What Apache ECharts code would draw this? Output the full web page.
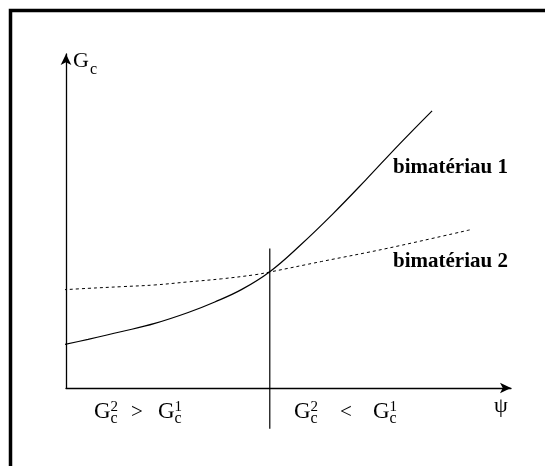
<!DOCTYPE html>
<html>
<head>
<meta charset="utf-8">
<script src="https://cdn.jsdelivr.net/npm/echarts@6/dist/echarts.min.js"></script>
<style>
    html, body { margin: 0; padding: 0; background: #fff; }
    #myChart { width: 545px; height: 466px; }
</style>
</head>
<body>
<div id="myChart"></div>
<script>
    // psi on x, Gc on y (arbitrary units, no ticks shown)
    var psi1 = [-1.7, 4.9, 12.4, 19.7, 27.1, 33.0, 39.0, 45.2, 51.9, 59.2, 66.5, 73.8, 81.2];
    var gc1  = [12.4, 14.3, 16.6, 19.0, 22.2, 25.3, 29.0, 34.2, 41.9, 51.2, 61.2, 71.5, 81.5];
    var psi2 = [-1.8, 4.9, 12.4, 19.7, 27.1, 34.5, 41.9, 45.2, 56.7, 71.4, 89.6];
    var gc2  = [28.8, 29.3, 29.8, 30.3, 31.2, 32.1, 33.3, 34.1, 37.2, 41.1, 46.5];
    var dividerPsi = 45.2;
    var dividerGc = [-12, 41];
    var curveNames = ['bimatériau 1', 'bimatériau 2'];

    function zip (xs, ys) {
        var out = [];
        for (var i = 0; i < xs.length; i++) {
            out.push([xs[i], ys[i]]);
        }
        return out;
    }

    var serif = '"Liberation Serif", "DejaVu Serif", serif';

    function txt (x, y, s, size, bold) {
        return {
            type: 'text',
            x: x,
            y: y,
            style: {
                text: s,
                fill: '#000',
                fontFamily: serif,
                fontSize: size,
                fontWeight: bold ? 'bold' : 'normal',
                textAlign: 'left',
                align: 'left',
                textVerticalAlign: 'middle',
                verticalAlign: 'middle'
            }
        };
    }

    // G_c^n pieces
    function gcTerm (x, sup) {
        return [
            txt(x, 412, 'G', 23),
            txt(x + 16.5, 407, sup, 15),
            txt(x + 16.5, 419, 'c', 16)
        ];
    }

    var graphics = [{
        type: 'rect',
        shape: { x: 10.5, y: 10.5, width: 700, height: 700 },
        style: { fill: 'none', stroke: '#000', lineWidth: 3.5 }
    },
        txt(73, 61.5, 'G', 22),
        txt(90, 69.5, 'c', 16),
        txt(494, 406, 'ψ', 22),
        txt(393, 168, curveNames[0], 21, true),
        txt(393, 261.5, curveNames[1], 21, true),
        txt(131, 412, '>', 21),
        txt(340, 412, '<', 21)
    ]
        .concat(gcTerm(94, '2'))
        .concat(gcTerm(158, '1'))
        .concat(gcTerm(294, '2'))
        .concat(gcTerm(373, '1'));

    var axisCommon = {
        type: 'value',
        min: 0,
        axisLine: {
            show: true,
            symbol: ['none', 'arrow'],
            symbolSize: [8, 11],
            lineStyle: { color: '#000', width: 1.3 }
        },
        axisTick: { show: false },
        axisLabel: { show: false },
        splitLine: { show: false }
    };

    var myChart = echarts.init(document.getElementById('myChart'));
    myChart.setOption({
        animation: false,
        backgroundColor: '#fff',
        grid: { left: 66, right: 34, top: 54, bottom: 78 },
        xAxis: Object.assign({}, axisCommon, { max: 98.7 }),
        yAxis: Object.assign({}, axisCommon, { max: 98.2 }),
        series: [{
            name: curveNames[0],
            type: 'line',
            data: zip(psi1, gc1),
            smooth: 0.4,
            showSymbol: false,
            clip: false,
            lineStyle: { color: '#000', width: 1.2 }
        }, {
            name: curveNames[1],
            type: 'line',
            data: zip(psi2, gc2),
            smooth: 0.4,
            showSymbol: false,
            clip: false,
            lineStyle: { color: '#000', width: 1, type: [3, 3] }
        }, {
            type: 'line',
            data: [[dividerPsi, dividerGc[0]], [dividerPsi, dividerGc[1]]],
            showSymbol: false,
            clip: false,
            lineStyle: { color: '#000', width: 1.2 }
        }],
        graphic: graphics
    });
</script>
</body>
</html>
